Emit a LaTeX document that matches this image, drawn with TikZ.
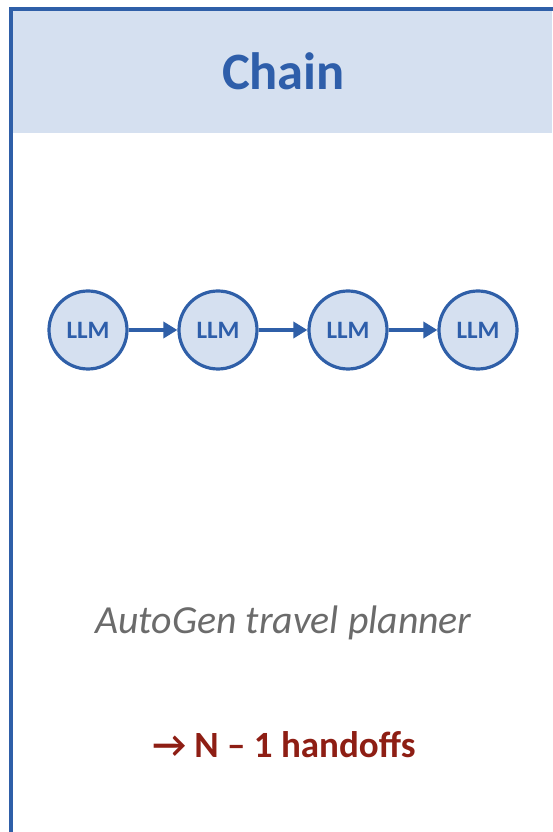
\documentclass[tikz,border=0pt]{standalone}
\usepackage{fontspec}
\setmainfont{Carlito}
\usetikzlibrary{arrows.meta}
\definecolor{frameblue}{HTML}{2F5FA8}
\definecolor{headfill}{HTML}{D5E0F0}
\definecolor{textblue}{HTML}{2E5EAA}
\definecolor{noteGray}{HTML}{6B6B6B}
\definecolor{darkred}{HTML}{8E1E14}
\tikzset{
  llm/.style={circle, draw=frameblue, line width=3.2pt, fill=headfill,
    minimum size=78pt, inner sep=0pt, text=textblue,
    font=\fontsize{25}{28}\selectfont\bfseries},
  link/.style={draw=frameblue, line width=3.5pt,
    -{Triangle[length=14pt,width=16pt]}},
}
\begin{document}
\begin{tikzpicture}[x=1pt,y=1pt]
\useasboundingbox (0,0) rectangle (552,832);
% header band and panel frame (runs off the right and bottom edges)
\fill[headfill] (13,699) rectangle (552,821);
\draw[frameblue, line width=4pt] (11,-5) -- (11,823) -- (560,823);
\node[anchor=base, text=textblue, font=\fontsize{52.5}{60}\selectfont\bfseries]
  (title) at (283.5,742) {Chain};
% chain of four LLM calls
\node[llm] (l1) at (88,502) {LLM};
\node[llm] (l2) at (218,502) {LLM};
\node[llm] (l3) at (348,502) {LLM};
\node[llm] (l4) at (478,502) {LLM};
\draw[link] (l1) -- (l2);
\draw[link] (l2) -- (l3);
\draw[link] (l3) -- (l4);
\node[anchor=base, text=noteGray, font=\fontsize{39.8}{46}\selectfont\itshape]
  (example) at (283.5,198) {AutoGen travel planner};
\node[anchor=base, text=darkred, font=\fontsize{37}{44}\selectfont\bfseries]
  (cost) at (284,74) {→ N – 1 handoffs};
\end{tikzpicture}
\end{document}
